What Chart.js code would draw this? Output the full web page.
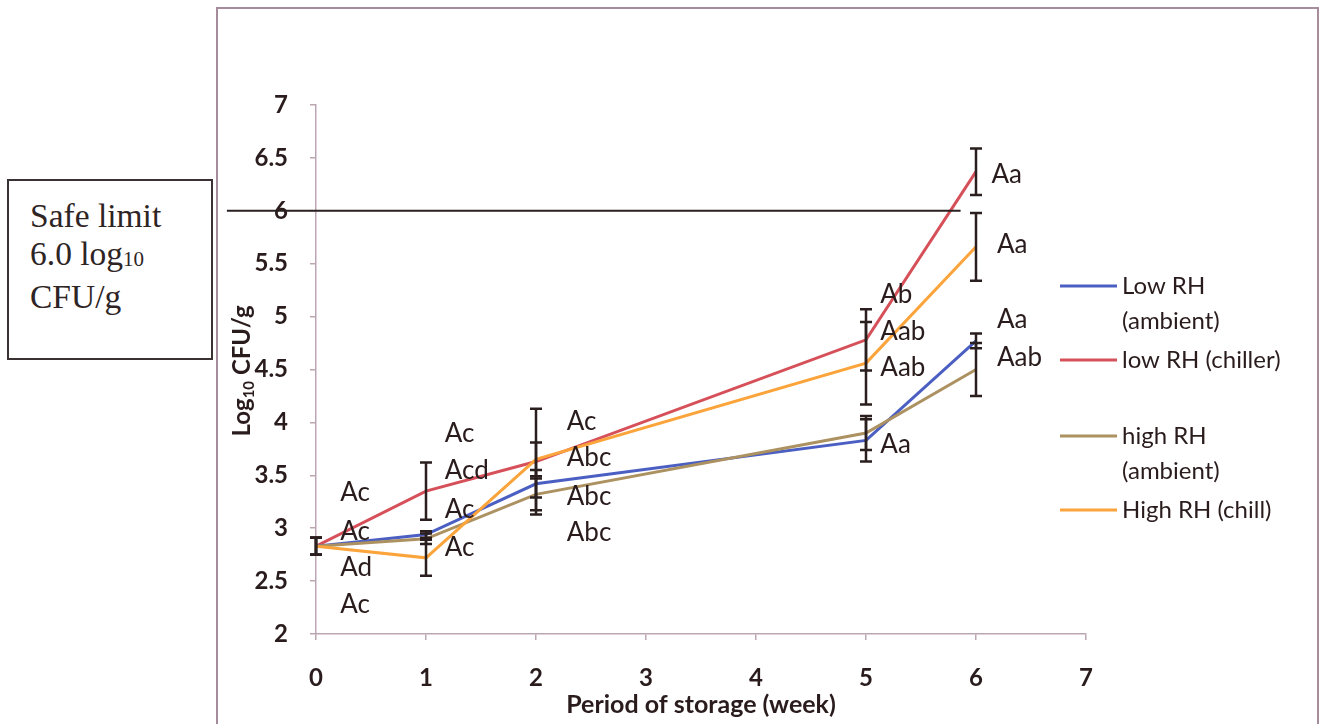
<!DOCTYPE html>
<html>
<head>
<meta charset="utf-8">
<script src="https://cdn.jsdelivr.net/npm/chart.js@4/dist/chart.umd.min.js"></script>
<style>
  body { margin: 0; background: #fff; width: 1326px; height: 724px; overflow: hidden; position: relative; }
  #frame { position: absolute; left: 216px; top: 7px; width: 1103px; height: 760px; border: 2px solid #a68b9a; box-sizing: border-box; }
  #limitBox { position: absolute; left: 7px; top: 179px; width: 206px; height: 181px; border: 2px solid #3a3232; box-sizing: border-box;
              font-family: 'Liberation Serif', serif; font-size: 33.5px; color: #2e2424; line-height: 37.5px; padding: 16px 0 0 21px; }
  #limitBox sub { font-size: 21px; vertical-align: -1px; }
  canvas { position: absolute; left: 0; top: 0; }
</style>
</head>
<body>
<div id="frame"></div>
<div id="limitBox">Safe limit<br>6.0 log<sub>10</sub><br>CFU/g</div>
<canvas id="lineChart" width="1326" height="724"></canvas>
<script>
// 保存期間（週）
const weeks = [0, 1, 2, 5, 6];

// 各条件の log10 CFU/g
const lowRhAmbient  = [2.83, 2.94, 3.42, 3.83, 4.77];
const lowRhChiller  = [2.83, 3.35, 3.63, 4.78, 6.37];
const highRhAmbient = [2.83, 2.90, 3.32, 3.90, 4.50];
const highRhChill   = [2.83, 2.72, 3.65, 4.56, 5.66];

// 標準偏差（エラーバー）
const lowRhAmbientErr  = [0.08, 0.03, 0.13, 0.20, 0.07];
const lowRhChillerErr  = [0.08, 0.27, 0.50, 0.29, 0.22];
const highRhAmbientErr = [0.08, 0.05, 0.15, 0.16, 0.25];
const highRhChillErr   = [0.08, 0.17, 0.16, 0.39, 0.32];

const yTicks = [2, 2.5, 3, 3.5, 4, 4.5, 5, 5.5, 6, 6.5, 7];
const safeLimit = 6.0;

// 有意差の文字（週, 値, 文字）
const letterWeek  = [0.22, 0.22, 0.22, 0.22, 1.17, 1.17, 1.17, 1.17, 2.28, 2.28, 2.28, 2.28, 5.13, 5.13, 5.13, 5.13, 6.14, 6.19, 6.19, 6.19];
const letterValue = [3.34, 2.97, 2.63, 2.28, 3.89, 3.54, 3.18, 2.82, 4.01, 3.67, 3.30, 2.96, 5.21, 4.86, 4.52, 3.79, 6.34, 5.68, 4.97, 4.61];
const letterText  = ['Ac', 'Ac', 'Ad', 'Ac', 'Ac', 'Acd', 'Ac', 'Ac', 'Ac', 'Abc', 'Abc', 'Abc', 'Ab', 'Aab', 'Aab', 'Aa', 'Aa', 'Aa', 'Aa', 'Aab'];

const textColor = '#2a1c1c';
const axisColor = '#bba6b1';

function toPoints(values) {
    return weeks.map((w, i) => ({ x: w, y: values[i] }));
}

const series = [
    { label: ['Low RH', '(ambient)'], data: lowRhAmbient,  err: lowRhAmbientErr,  color: '#4b5fc2', order: 2 },
    { label: ['low RH (chiller)'],    data: lowRhChiller,  err: lowRhChillerErr,  color: '#d6505a', order: 3 },
    { label: ['high RH', '(ambient)'],data: highRhAmbient, err: highRhAmbientErr, color: '#ac9161', order: 1 },
    { label: ['High RH (chill)'],     data: highRhChill,   err: highRhChillErr,   color: '#fba43c', order: 0 }
];

// エラーバー・基準線・文字・凡例・軸タイトルをまとめて描く
const overlay = {
    id: 'overlay',
    afterDatasetsDraw(chart) {
        const ctx = chart.ctx;
        const xs = chart.scales.x;
        const ys = chart.scales.y;
        ctx.save();

        // 安全基準線
        ctx.strokeStyle = '#2a2020';
        ctx.lineWidth = 2;
        ctx.beginPath();
        ctx.moveTo(xs.getPixelForValue(-0.81), ys.getPixelForValue(safeLimit));
        ctx.lineTo(xs.getPixelForValue(5.86), ys.getPixelForValue(safeLimit));
        ctx.stroke();

        // エラーバー
        ctx.strokeStyle = '#2a1e1e';
        ctx.lineWidth = 2.5;
        series.forEach(s => {
            weeks.forEach((w, i) => {
                const px = xs.getPixelForValue(w);
                const top = ys.getPixelForValue(s.data[i] + s.err[i]);
                const bot = ys.getPixelForValue(s.data[i] - s.err[i]);
                ctx.beginPath();
                ctx.moveTo(px, top); ctx.lineTo(px, bot);
                ctx.moveTo(px - 6, top); ctx.lineTo(px + 6, top);
                ctx.moveTo(px - 6, bot); ctx.lineTo(px + 6, bot);
                ctx.stroke();
            });
        });

        // 有意差の文字
        ctx.fillStyle = textColor;
        ctx.font = '26px Lato';
        ctx.textAlign = 'left';
        ctx.textBaseline = 'middle';
        letterText.forEach((t, i) => {
            ctx.fillText(t, xs.getPixelForValue(letterWeek[i]), ys.getPixelForValue(letterValue[i]));
        });

        // 凡例
        const rowY = [286, 360, 436, 510];
        ctx.font = '24px Lato';
        ctx.lineWidth = 3;
        series.forEach((s, i) => {
            ctx.strokeStyle = s.color;
            ctx.beginPath();
            ctx.moveTo(1060, rowY[i]);
            ctx.lineTo(1117, rowY[i]);
            ctx.stroke();
            s.label.forEach((line, j) => ctx.fillText(line, 1122, rowY[i] + j * 35));
        });

        // 軸タイトル
        ctx.font = 'bold 25px Lato';
        ctx.textAlign = 'center';
        ctx.fillText('Period of storage (week)', 701, 705);

        ctx.translate(242, 371);
        ctx.rotate(-Math.PI / 2);
        ctx.textAlign = 'left';
        const big = 'bold 24px Lato', small = 'bold 15px Lato';
        ctx.font = big;  const w1 = ctx.measureText('Log').width;
        ctx.font = small; const w2 = ctx.measureText('10').width;
        ctx.font = big;  const w3 = ctx.measureText(' CFU/g').width;
        const x0 = -(w1 + w2 + w3) / 2;
        ctx.fillText('Log', x0, 0);
        ctx.font = small; ctx.fillText('10', x0 + w1, 7);
        ctx.font = big;  ctx.fillText(' CFU/g', x0 + w1 + w2, 0);
        ctx.restore();
    }
};

const ctx = document.getElementById('lineChart').getContext('2d');
const chart = new Chart(ctx, {
    type: 'line',
    data: {
        datasets: series.map(s => ({
            label: s.label.join(' '),
            data: toPoints(s.data),
            borderColor: s.color,
            backgroundColor: s.color,
            borderWidth: 3,
            pointRadius: 0,
            tension: 0,
            fill: false,
            order: s.order
        }))
    },
    options: {
        responsive: false,
        animation: false,
        layout: { padding: { top: 105, right: 240, bottom: 0, left: 0 } },
        plugins: { legend: { display: false }, tooltip: { enabled: false } },
        scales: {
            x: {
                type: 'linear', min: 0, max: 7,
                ticks: { stepSize: 1, color: textColor, font: { family: 'Lato', size: 24, weight: 'bold' }, padding: 24 },
                grid: { drawOnChartArea: false, tickLength: 6, color: axisColor, lineWidth: 1.5 },
                border: { color: axisColor, width: 1.5 },
                afterFit(scale) { scale.height = 90; }
            },
            y: {
                type: 'linear', min: 2, max: 7,
                afterBuildTicks(scale) { scale.ticks = yTicks.map(v => ({ value: v })); },
                ticks: { color: textColor, font: { family: 'Lato', size: 24, weight: 'bold' }, padding: 22, callback: v => String(v) },
                grid: { drawOnChartArea: false, tickLength: 6, color: axisColor, lineWidth: 1.5 },
                border: { color: axisColor, width: 1.5 },
                afterFit(scale) { scale.width = 316; }
            }
        }
    },
    plugins: [overlay]
});
</script>
</body>
</html>
